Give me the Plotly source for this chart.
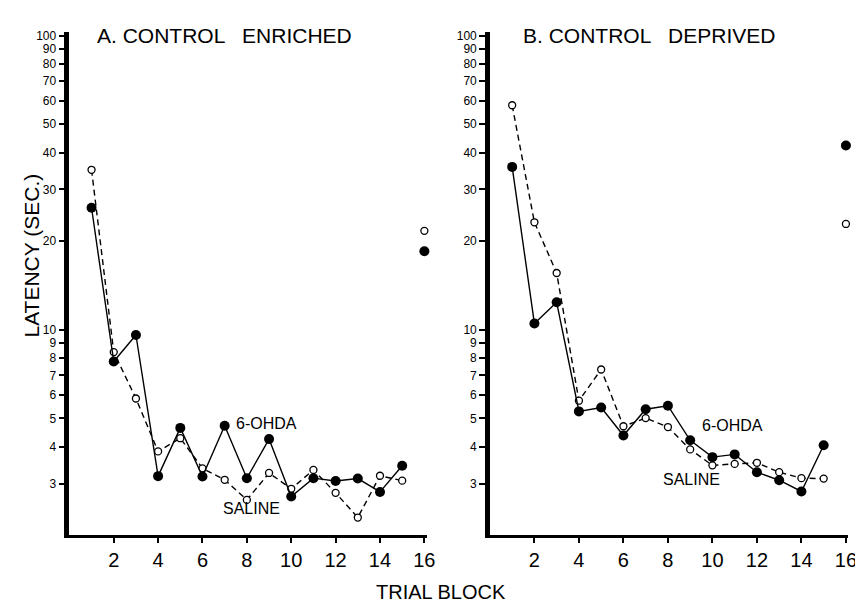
import math
import plotly.graph_objects as go

# ---------------- data ----------------
trial_blocks = [1, 2, 3, 4, 5, 6, 7, 8, 9, 10, 11, 12, 13, 14, 15]
final_block = [16]

a_ohda = [26.0, 7.8, 9.6, 3.18, 4.64, 3.17, 4.72, 3.13, 4.25, 2.71, 3.13, 3.06, 3.12, 2.81, 3.45]
a_saline = [35.0, 8.4, 5.84, 3.86, 4.28, 3.38, 3.09, 2.64, 3.26, 2.88, 3.34, 2.79, 2.3, 3.19, 3.07]
a_ohda_final = [18.5]
a_saline_final = [21.7]

b_ohda = [35.8, 10.5, 12.4, 5.28, 5.44, 4.37, 5.37, 5.52, 4.21, 3.69, 3.77, 3.28, 3.08, 2.82, 4.05]
b_saline = [58.0, 23.2, 15.6, 5.74, 7.33, 4.70, 5.01, 4.67, 3.92, 3.46, 3.50, 3.53, 3.28, 3.13, 3.12]
b_ohda_final = [42.3]
b_saline_final = [22.9]

y_tick_values = [3, 4, 5, 6, 7, 8, 9, 10, 20, 30, 40, 50, 60, 70, 80, 90, 100]
y_tick_labels = ["3", "4", "5", "6", "7", "8", "9", "10", "20", "30", "40", "50", "60", "70", "80", "90", "100"]
x_tick_values = [2, 4, 6, 8, 10, 12, 14, 16]
x_tick_labels = ["2", "4", "6", "8", "10", "12", "14", "16"]

panel_titles = ["A. CONTROL   ENRICHED", "B. CONTROL   DEPRIVED"]
# ---------------------------------------

W, H = 863, 603
FONT = "Liberation Sans, Arial, Helvetica, sans-serif"

fig = go.Figure()


def add_panel(xa, ya, ohda, saline, ohda_f, sal_f):
    fig.add_trace(go.Scatter(
        x=trial_blocks, y=saline, xaxis=xa, yaxis=ya, mode="lines+markers",
        line=dict(color="black", width=1.4, dash="6px,4px"),
        marker=dict(symbol="circle", size=7, color="white", line=dict(color="black", width=1.3)),
        cliponaxis=False, showlegend=False))
    fig.add_trace(go.Scatter(
        x=trial_blocks, y=ohda, xaxis=xa, yaxis=ya, mode="lines+markers",
        line=dict(color="black", width=1.4),
        marker=dict(symbol="circle", size=10, color="black"),
        cliponaxis=False, showlegend=False))
    fig.add_trace(go.Scatter(
        x=final_block, y=sal_f, xaxis=xa, yaxis=ya, mode="markers",
        marker=dict(symbol="circle", size=7, color="white", line=dict(color="black", width=1.3)),
        cliponaxis=False, showlegend=False))
    fig.add_trace(go.Scatter(
        x=final_block, y=ohda_f, xaxis=xa, yaxis=ya, mode="markers",
        marker=dict(symbol="circle", size=10, color="black"),
        cliponaxis=False, showlegend=False))


add_panel("x", "y", a_ohda, a_saline, a_ohda_final, a_saline_final)
add_panel("x2", "y2", b_ohda, b_saline, b_ohda_final, b_saline_final)

ydom = [(H - 527) / H, (H - 21) / H]

xcommon = dict(range=[0, 16.1], showline=True, linecolor="black", linewidth=2.5,
               ticks="outside", ticklen=5, tickwidth=1.5, tickcolor="black",
               tickvals=x_tick_values, ticktext=x_tick_labels,
               tickfont=dict(family=FONT, size=20, color="black"),
               showgrid=False, zeroline=False, mirror=False)
ycommon = dict(type="log", range=[math.log10(2.0), math.log10(103)], showline=True,
               linecolor="black", linewidth=4.5,
               ticks="outside", ticklen=6, tickwidth=1.5, tickcolor="black",
               tickvals=y_tick_values, ticktext=y_tick_labels,
               tickfont=dict(family=FONT, size=12, color="black"),
               showgrid=False, zeroline=False, domain=ydom)

fig.update_layout(
    width=W, height=H,
    margin=dict(l=0, r=0, t=0, b=0),
    paper_bgcolor="white", plot_bgcolor="white",
    xaxis=dict(domain=[62 / W, 423 / W], anchor="y", **xcommon),
    yaxis=dict(anchor="x", **ycommon),
    xaxis2=dict(domain=[487 / W, 849 / W], anchor="y2", **xcommon),
    yaxis2=dict(anchor="x2", **ycommon),
    font=dict(family=FONT, color="black"),
)

ann = []
# panel titles
ann.append(dict(text=panel_titles[0], xref="paper", yref="paper", x=88 / W, y=1 - 25 / H,
                xanchor="left", yanchor="middle", showarrow=False,
                font=dict(family=FONT, size=21, color="black")))
ann.append(dict(text=panel_titles[1], xref="paper", yref="paper", x=518 / W, y=1 - 25 / H,
                xanchor="left", yanchor="middle", showarrow=False,
                font=dict(family=FONT, size=21, color="black")))
# axis titles
ann.append(dict(text="LATENCY (SEC.)", xref="paper", yref="paper", x=24 / W, y=1 - 246 / H,
                xanchor="center", yanchor="middle", textangle=-90, showarrow=False,
                font=dict(family=FONT, size=21, color="black")))
ann.append(dict(text="TRIAL BLOCK", xref="paper", yref="paper", x=438 / W, y=1 - 584 / H,
                xanchor="center", yanchor="middle", showarrow=False,
                font=dict(family=FONT, size=20, color="black")))
# series labels
ann.append(dict(text="6-OHDA", xref="x", yref="y", x=7.4, y=math.log10(4.8),
                xanchor="left", yanchor="middle", showarrow=False,
                font=dict(family=FONT, size=16, color="black")))
ann.append(dict(text="SALINE", xref="x", yref="y", x=8.2, y=math.log10(2.46),
                xanchor="center", yanchor="middle", showarrow=False,
                font=dict(family=FONT, size=16, color="black")))
ann.append(dict(text="6-OHDA", xref="x2", yref="y2", x=9.42, y=math.log10(4.72),
                xanchor="left", yanchor="middle", showarrow=False,
                font=dict(family=FONT, size=16, color="black")))
ann.append(dict(text="SALINE", xref="x2", yref="y2", x=9.04, y=math.log10(3.10),
                xanchor="center", yanchor="middle", showarrow=False,
                font=dict(family=FONT, size=16, color="black")))
fig.update_layout(annotations=ann)

fig.write_html("out.html")
